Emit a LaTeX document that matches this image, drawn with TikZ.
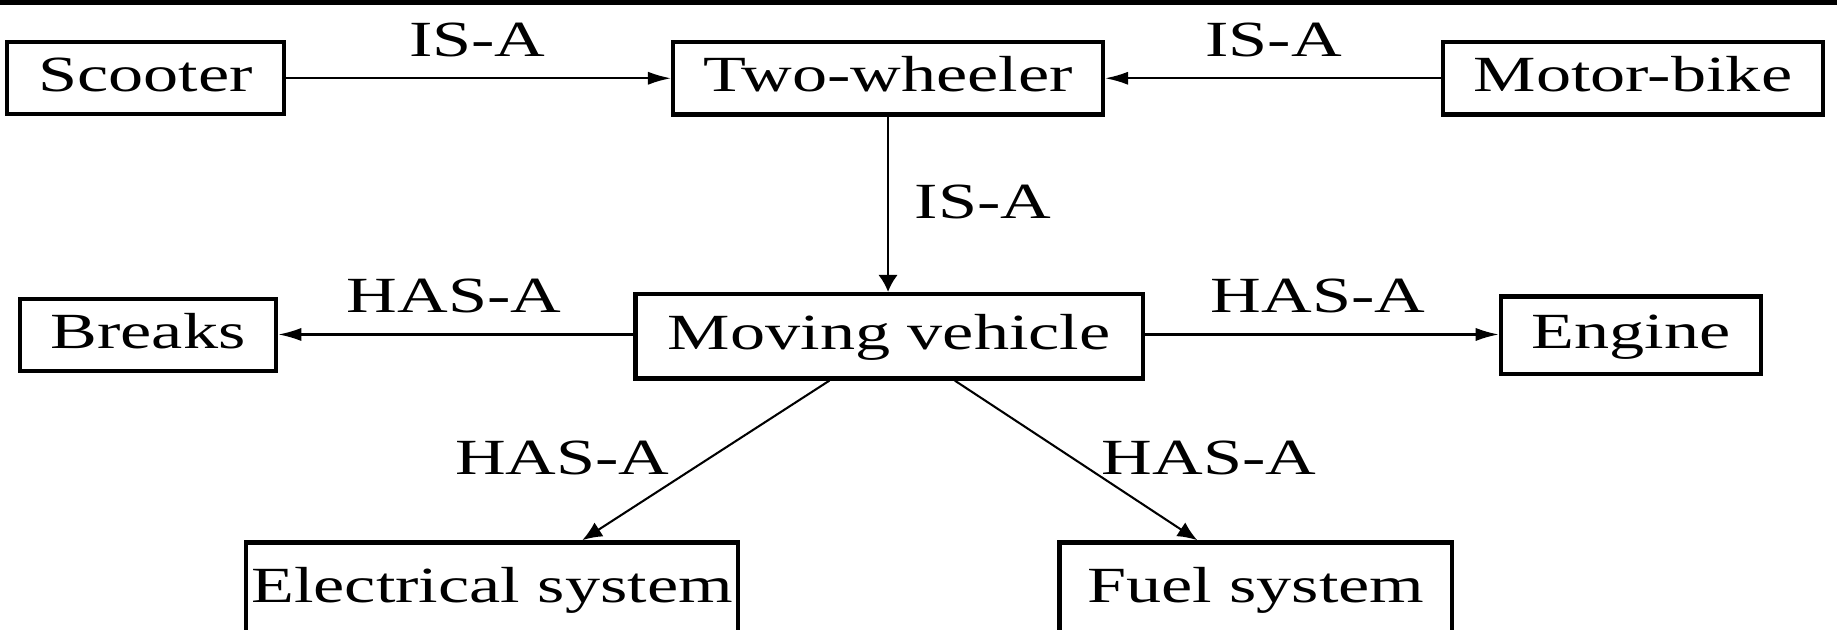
\documentclass[tikz,border=0pt]{standalone}
\usepackage{fontspec}
\setmainfont{Liberation Serif}[FakeStretch=1.385]
\usetikzlibrary{arrows.meta,calc}
\begin{document}
\begin{tikzpicture}[x=0.01cm,y=-0.01cm,
  txt/.style={font=\fontsize{12.3}{14}\selectfont,text height=0.88em,text depth=0.22em},
  box/.style={txt,draw,line width=1.05pt,inner sep=0pt},
  lbl/.style={txt,inner sep=0pt},
  hconn/.style={line width=0.5pt,-{Latex[length=5.6pt,width=3.2pt]}},
  vconn/.style={line width=0.5pt,-{Latex[length=4.1pt,width=4.7pt]}},
  dconn/.style={line width=0.5pt,-{Latex[length=4.8pt,width=4pt]}}]
\useasboundingbox (0,0) rectangle (1568,537);
\clip (0,0) rectangle (1568,537);
\fill[black] (0,0) rectangle (1568,4);
% boxes
\node[box,minimum width=2.362cm,minimum height=0.615cm] (scoot) at (124.3,66.8) {Scooter};
\node[box,minimum width=3.666cm,minimum height=0.616cm] (two) at (758,66.8) {Two-wheeler};
\node[box,minimum width=3.242cm,minimum height=0.616cm] (moto) at (1393.9,66.8) {Motor-bike};
\node[box,minimum width=4.33cm,minimum height=0.72cm] (move) at (759,287) {Moving vehicle};
\node[box,minimum width=2.185cm,minimum height=0.615cm] (brk) at (126.4,286) {Breaks};
\node[box,minimum width=2.22cm,minimum height=0.66cm] (eng) at (1392.2,286) {Engine};
\node[box,minimum width=4.20cm,minimum height=0.80cm] (elec) at (420,503) {Electrical system};
\node[box,minimum width=3.35cm,minimum height=0.80cm] (fuel) at (1072,503) {Fuel system};
% labels
\node[lbl] (l1) at (407.5,37) {IS-A};
\node[lbl] (l2) at (1087,37) {IS-A};
\node[lbl] (l3) at (839,174.7) {IS-A};
\node[lbl] (l4) at (387.5,255.4) {HAS-A};
\node[lbl] (l5) at (1125,255.4) {HAS-A};
\node[lbl] (l6) at (480,393) {HAS-A};
\node[lbl] (l7) at (1032,393) {HAS-A};
% connectors
\coordinate (mw) at ($(move.west)+(0,-1.5)$);
\coordinate (me) at ($(move.east)+(0,-1.5)$);
\draw[hconn] (scoot.east) -- (scoot.east -| two.west);
\draw[hconn] (moto.west) -- (moto.west -| two.east);
\draw[vconn] (two.south) -- (two.south |- move.north);
\draw[hconn] (mw) -- (mw -| brk.east);
\draw[hconn] (me) -- (me -| eng.west);
\draw[dconn] ($(move.south)+(-51,0)$) -- ($(elec.north)+(77,0)$);
\draw[dconn] ($(move.south)+(56,0)$) -- ($(fuel.north)+(-50,0)$);
\end{tikzpicture}
\end{document}
